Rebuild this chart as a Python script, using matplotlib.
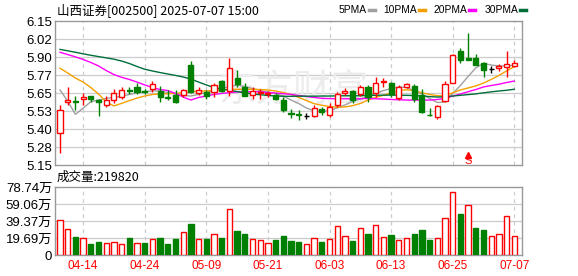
import matplotlib
matplotlib.use('Agg')
import matplotlib.pyplot as plt
import numpy as np

plt.rcParams['font.family'] = ['Liberation Sans', 'Noto Sans CJK SC', 'DejaVu Sans']

# ---- data ----
title = '山西证券[002500] 2025-07-07 15:00'
vol_label = '成交量:219820'

opens = [5.37, 5.59, 5.595, 5.606, 5.627, 5.60, 5.565, 5.60, 5.625, 5.67,
         5.69, 5.665, 5.68, 5.665, 5.625, 5.636, 5.636, 5.844, 5.652, 5.659,
         5.659, 5.735, 5.666, 5.756, 5.69, 5.636, 5.648, 5.643, 5.636, 5.60,
         5.512, 5.505, 5.487, 5.492, 5.537, 5.497, 5.567, 5.648, 5.664, 5.643,
         5.694, 5.652, 5.725, 5.717, 5.613, 5.694, 5.699, 5.636, 5.50, 5.481,
         5.594, 5.722, 5.942, 5.89, 5.895, 5.856, 5.815, 5.826, 5.833, 5.838]
highs = [5.567, 5.69, 5.63, 5.65, 5.63, 5.61, 5.63, 5.68, 5.69, 5.69,
         5.72, 5.675, 5.735, 5.70, 5.67, 5.67, 5.68, 5.872, 5.69, 5.671,
         5.717, 5.74, 5.89, 5.81, 5.72, 5.69, 5.676, 5.666, 5.648, 5.625,
         5.54, 5.53, 5.51, 5.567, 5.551, 5.583, 5.659, 5.683, 5.671, 5.706,
         5.706, 5.763, 5.752, 5.729, 5.706, 5.722, 5.713, 5.676, 5.544, 5.567,
         5.733, 5.919, 5.96, 6.069, 5.92, 5.867, 5.836, 5.851, 5.942, 5.879]
lows = [5.235, 5.57, 5.53, 5.57, 5.59, 5.49, 5.55, 5.58, 5.61, 5.64,
        5.645, 5.645, 5.655, 5.59, 5.60, 5.58, 5.62, 5.652, 5.636, 5.606,
        5.624, 5.659, 5.63, 5.694, 5.63, 5.61, 5.61, 5.624, 5.598, 5.515,
        5.475, 5.46, 5.467, 5.485, 5.497, 5.481, 5.551, 5.636, 5.583, 5.63,
        5.59, 5.624, 5.694, 5.624, 5.601, 5.683, 5.59, 5.513, 5.492, 5.469,
        5.59, 5.717, 5.86, 5.879, 5.844, 5.763, 5.789, 5.805, 5.763, 5.833]
closes = [5.532, 5.60, 5.59, 5.62, 5.61, 5.59, 5.60, 5.65, 5.67, 5.665,
          5.66, 5.66, 5.712, 5.625, 5.615, 5.59, 5.671, 5.659, 5.671, 5.629,
          5.706, 5.666, 5.822, 5.71, 5.632, 5.666, 5.659, 5.652, 5.606, 5.535,
          5.507, 5.50, 5.487, 5.543, 5.52, 5.551, 5.643, 5.664, 5.601, 5.694,
          5.624, 5.722, 5.73, 5.643, 5.694, 5.713, 5.608, 5.52, 5.497, 5.56,
          5.71, 5.914, 5.879, 5.879, 5.844, 5.81, 5.815, 5.838, 5.851, 5.86]

ma5 = [5.671, 5.594, 5.502, 5.544, 5.590, 5.601, 5.613, 5.619, 5.627, 5.640,
       5.650, 5.659, 5.665, 5.664, 5.653, 5.643, 5.633, 5.629, 5.640, 5.653,
       5.667, 5.681, 5.695, 5.706, 5.695, 5.681, 5.667, 5.657, 5.647, 5.629,
       5.601, 5.577, 5.546, 5.525, 5.520, 5.528, 5.546, 5.567, 5.591, 5.608,
       5.626, 5.647, 5.667, 5.681, 5.692, 5.688, 5.667, 5.643, 5.612, 5.584,
       5.588, 5.647, 5.702, 5.765, 5.824, 5.856, 5.844, 5.838, 5.838, 5.844]
ma10 = [5.822, 5.789, 5.754, 5.726, 5.688, 5.643, 5.588, 5.560, 5.578, 5.597,
        5.615, 5.629, 5.640, 5.643, 5.645, 5.648, 5.653, 5.659, 5.662, 5.665,
        5.667, 5.671, 5.676, 5.676, 5.676, 5.676, 5.674, 5.671, 5.664, 5.653,
        5.640, 5.619, 5.598, 5.576, 5.565, 5.556, 5.551, 5.553, 5.562, 5.577,
        5.601, 5.620, 5.634, 5.650, 5.667, 5.673, 5.666, 5.652, 5.640, 5.631,
        5.631, 5.652, 5.671, 5.685, 5.699, 5.719, 5.744, 5.772, 5.803, 5.833]
ma20 = [5.933, 5.917, 5.901, 5.883, 5.862, 5.838, 5.806, 5.778, 5.759, 5.744,
        5.726, 5.706, 5.688, 5.674, 5.667, 5.647, 5.622, 5.601, 5.619, 5.629,
        5.640, 5.647, 5.652, 5.657, 5.659, 5.659, 5.659, 5.653, 5.650, 5.645,
        5.640, 5.633, 5.626, 5.619, 5.613, 5.611, 5.610, 5.610, 5.610, 5.610,
        5.612, 5.610, 5.608, 5.605, 5.603, 5.601, 5.601, 5.601, 5.601, 5.605,
        5.612, 5.629, 5.643, 5.659, 5.674, 5.692, 5.702, 5.711, 5.723, 5.733]
ma30 = [5.953, 5.943, 5.933, 5.922, 5.912, 5.903, 5.894, 5.885, 5.872, 5.855,
        5.834, 5.815, 5.803, 5.792, 5.782, 5.772, 5.761, 5.747, 5.726, 5.706,
        5.688, 5.678, 5.669, 5.660, 5.651, 5.644, 5.638, 5.633, 5.629, 5.627,
        5.627, 5.628, 5.628, 5.628, 5.629, 5.629, 5.630, 5.631, 5.631, 5.631,
        5.633, 5.634, 5.635, 5.635, 5.635, 5.634, 5.632, 5.629, 5.625, 5.622,
        5.624, 5.629, 5.634, 5.639, 5.644, 5.651, 5.658, 5.664, 5.669, 5.676]

# volume in 万手
volume = [40.0, 30.0, 20.8, 19.2, 12.7, 15.0, 13.5, 15.0, 12.3, 19.6,
          13.5, 13.8, 18.1, 19.6, 12.7, 18.1, 26.2, 36.1, 18.1, 18.1,
          23.8, 19.6, 52.7, 27.7, 24.2, 18.1, 16.9, 13.8, 16.9, 21.9,
          16.1, 15.0, 12.3, 19.2, 15.0, 18.1, 33.1, 21.5, 16.1, 30.7,
          24.2, 34.2, 20.4, 23.1, 16.9, 19.2, 24.2, 28.8, 17.3, 19.2,
          42.3, 73.4, 47.3, 57.6, 31.1, 28.8, 21.5, 24.2, 44.6, 21.98]
vol_up = [1, 1, 0, 1, 0, 0, 1, 1, 1, 0, 1, 0, 1, 0, 0, 0, 1, 0, 1, 0,
          1, 0, 1, 0, 0, 1, 1, 1, 0, 0, 0, 0, 1, 1, 0, 1, 1, 1, 0, 1,
          0, 1, 1, 0, 1, 1, 0, 0, 0, 1, 1, 1, 0, 1, 0, 0, 1, 1, 1, 1]

date_idx = [3, 11, 19, 27, 35, 43, 51, 59]
date_labels = ['04-14', '04-24', '05-09', '05-21', '06-03', '06-13', '06-25', '07-07']

price_ticks = [5.15, 5.275, 5.40, 5.525, 5.65, 5.775, 5.90, 6.025, 6.15]
price_labels = ['5.15', '5.28', '5.40', '5.53', '5.65', '5.77', '5.90', '6.02', '6.15']
vol_ticks = [0, 19.69, 39.37, 59.06, 78.74]
vol_labels = ['0', '19.69万', '39.37万', '59.06万', '78.74万']

signal_idx = 53

ma_names = ['5PMA', '10PMA', '20PMA', '30PMA']
ma_colors = ['#a0a0a0', '#f5a000', '#ff00ff', '#006e3a']

RED = '#ff0000'
GREEN = '#008000'
GRID = '#cccccc'
FRAME = '#999999'

W, H = 578, 276
fig = plt.figure(figsize=(W / 100, H / 100), dpi=100)

def box(x0, y0, x1, y1):
    return [x0 / W, 1 - y1 / H, (x1 - x0) / W, (y1 - y0) / H]

ax = fig.add_axes(box(55, 21, 522, 165))
axv = fig.add_axes(box(55, 187, 522, 255))

n = len(closes)
x = np.arange(n)
xlim = (-0.65, 60.0)
bw = 0.66

for a in (ax, axv):
    a.set_xlim(*xlim)
    for s in a.spines.values():
        s.set_color(FRAME)
        s.set_linewidth(1)
    a.tick_params(length=0, labelsize=9.5, pad=2)
    a.set_xticks([])
    for d in date_idx:
        a.axvline(d, color=GRID, lw=0.9, ls=(0, (3, 3)), zorder=0.6)

# ---- price panel ----
ax.set_ylim(5.15, 6.15)
ax.set_yticks(price_ticks)
ax.set_yticklabels(price_labels)
for t in price_ticks[1:-1]:
    ax.axhline(t, color=GRID, lw=0.9, zorder=0.6)

# faint watermark
ax.text(0.51, 0.52, '东方财富', transform=ax.transAxes, ha='center', va='center',
        fontsize=27, color='#ececec', family=['Noto Sans CJK SC'], zorder=0.7)

for i, nm in enumerate(ma_names):
    vals = [ma5, ma10, ma20, ma30][i]
    ax.plot(x, vals, color=ma_colors[i], lw=1.0, zorder=2)

for i in range(n):
    o, h, l, c = opens[i], highs[i], lows[i], closes[i]
    top, bot = max(o, c), min(o, c)
    if c > o:
        ax.vlines(i, top, h, color=RED, lw=1, zorder=3)
        ax.vlines(i, l, bot, color=RED, lw=1, zorder=3)
        ax.bar(i, top - bot, bw, bot, facecolor='white', edgecolor=RED, lw=1, zorder=3)
    elif c < o:
        ax.vlines(i, l, h, color=GREEN, lw=1, zorder=3)
        ax.bar(i, top - bot, bw, bot, facecolor=GREEN, edgecolor=GREEN, lw=1, zorder=3)
    else:
        ax.vlines(i, l, h, color='black', lw=1, zorder=3)
        ax.hlines(c, i - bw / 2, i + bw / 2, color='black', lw=1, zorder=3)

# buy/sell signal marker
ax.plot(signal_idx, 5.222, marker='^', ms=4, color=RED, zorder=4, clip_on=False)
ax.text(signal_idx, 5.178, 'S', color=RED, fontsize=8, ha='center', va='center', zorder=4)

# ---- volume panel ----
axv.set_ylim(0, 78.74)
axv.set_yticks(vol_ticks)
axv.set_yticklabels(vol_labels)
for t in vol_ticks[1:-1]:
    axv.axhline(t, color=GRID, lw=0.9, zorder=0.6)
for i in range(n):
    if vol_up[i]:
        axv.bar(i, volume[i], bw + 0.04, facecolor='white', edgecolor=RED, lw=1, zorder=3)
    else:
        axv.bar(i, volume[i], bw + 0.04, facecolor=GREEN, edgecolor=GREEN, lw=1, zorder=3)

for d, lab in zip(date_idx, date_labels):
    axv.text(d, -5.5, lab, color=RED, fontsize=8.5, ha='center', va='top')

# ---- header texts ----
fig.text(57 / W, 1 - 10 / H, title, fontsize=9, va='center', ha='left',
         family=['Noto Sans CJK SC', 'DejaVu Sans'])
fig.text(57 / W, 1 - 177 / H, vol_label, fontsize=9, va='center', ha='left',
         family=['Noto Sans CJK SC', 'DejaVu Sans'])

# legend: name then colour swatch
lx = 339
for nm, col in zip(ma_names, ma_colors):
    t = fig.text(lx / W, 1 - 10 / H, nm, fontsize=7.4, va='center', ha='left')
    fig.canvas.draw()
    bb = t.get_window_extent()
    sx = bb.x1 + 1.5
    fig.add_artist(plt.Line2D([sx / W, (sx + 6) / W], [1 - 10 / H, 1 - 10 / H],
                              color=col, lw=2.5))
    lx = sx + 15

fig.savefig('out.png', dpi=100)
